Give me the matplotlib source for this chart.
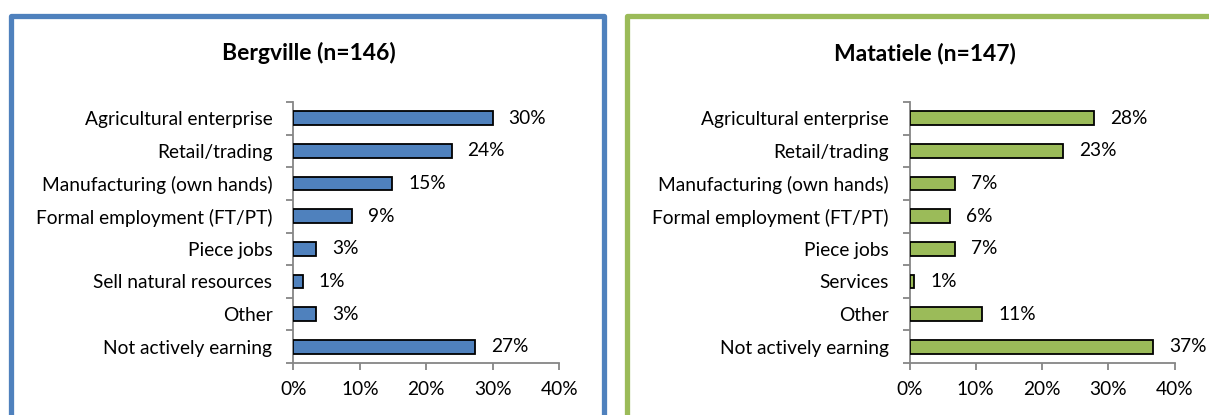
import matplotlib
matplotlib.use("Agg")
import matplotlib.pyplot as plt
from matplotlib.patches import Rectangle
from matplotlib.ticker import FixedLocator, FuncFormatter

plt.rcParams['font.family'] = ['Lato', 'DejaVu Sans']

# Share of respondents by main income activity (%)
bergville_categories = [
    "Agricultural enterprise", "Retail/trading", "Manufacturing (own hands)",
    "Formal employment (FT/PT)", "Piece jobs", "Sell natural resources",
    "Other", "Not actively earning",
]
bergville_values = [30.0, 23.8, 14.9, 8.8, 3.4, 1.4, 3.4, 27.4]

matatiele_categories = [
    "Agricultural enterprise", "Retail/trading", "Manufacturing (own hands)",
    "Formal employment (FT/PT)", "Piece jobs", "Services",
    "Other", "Not actively earning",
]
matatiele_values = [27.9, 23.2, 6.8, 6.1, 6.8, 0.7, 11.0, 36.8]

x_ticks = [0, 10, 20, 30, 40]

W, H = 1209, 415
fig = plt.figure(figsize=(W / 100, H / 100), dpi=100)


def px_rect(x0, y0, x1, y1):
    return [x0 / W, 1 - y1 / H, (x1 - x0) / W, (y1 - y0) / H]


# Panel frames (they run on past the bottom / right edge of the figure)
fig.patches.append(Rectangle((11 / W, -0.05), (604 - 11) / W, 1.05 - 16 / H,
                             transform=fig.transFigure, fill=False,
                             edgecolor="#4F81BD", linewidth=3.8,
                             joinstyle="round", zorder=0))
fig.patches.append(Rectangle((627 / W, -0.05), 0.6, 1.05 - 16.5 / H,
                             transform=fig.transFigure, fill=False,
                             edgecolor="#9BBB59", linewidth=3.8,
                             joinstyle="round", zorder=0))

grey = "#868686"
FS = 13.8


def draw_panel(rect, cats, vals, color, title, title_x):
    ax = fig.add_axes(rect)
    n = len(cats)
    ypos = list(range(n))
    ax.barh(ypos, vals, height=0.42, color=color, edgecolor="black",
            linewidth=1.3, zorder=3)
    ax.set_ylim(n - 0.5, -0.5)
    ax.set_xlim(0, 40)
    ax.set_yticks(ypos)
    ax.set_yticklabels(cats, fontsize=FS)
    ax.yaxis.set_minor_locator(FixedLocator([i - 0.5 for i in range(n + 1)]))
    ax.tick_params(axis="y", which="major", length=0, pad=15)
    ax.tick_params(axis="y", which="minor", length=5, color=grey, width=1.3)
    ax.xaxis.set_major_locator(FixedLocator(x_ticks))
    ax.xaxis.set_major_formatter(FuncFormatter(lambda v, p: f"{v:.0f}%"))
    ax.tick_params(axis="x", length=5, color=grey, width=1.3, labelsize=FS, pad=8)
    for s in ("top", "right"):
        ax.spines[s].set_visible(False)
    for s in ("left", "bottom"):
        ax.spines[s].set_color(grey)
        ax.spines[s].set_linewidth(1.3)
    for y, v in zip(ypos, vals):
        ax.annotate(f"{round(v):.0f}%", (v, y), xytext=(11.5, 0),
                    textcoords="offset points", ha="left", va="center",
                    fontsize=FS)
    fig.text(title_x / W, 1 - 53 / H, title, ha="center", va="center",
             fontsize=16.5, fontweight="bold")
    return ax


draw_panel(px_rect(293.3, 102, 559.2, 363), bergville_categories,
           bergville_values, "#4F81BD", "Bergville (n=146)", 309)
draw_panel(px_rect(909.5, 102, 1174.5, 363), matatiele_categories,
           matatiele_values, "#9BBB59", "Matatiele (n=147)", 925)

fig.savefig("out.png", dpi=100)
